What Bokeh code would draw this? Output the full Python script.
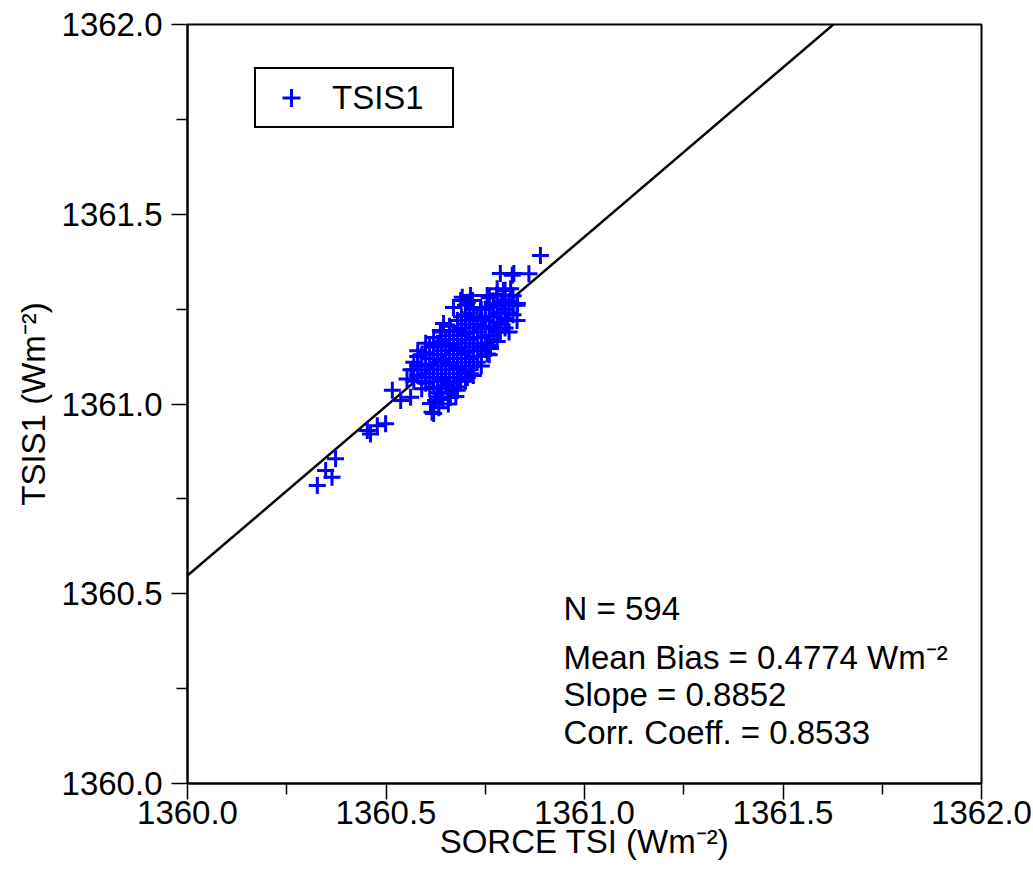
from bokeh.plotting import figure
from bokeh.models import Range1d, FixedTicker, Label, Legend, LegendItem, PrintfTickFormatter
from bokeh.embed import file_html
from bokeh.resources import INLINE

# ---- data ----
sorce_tsi = [
    1360.327, 1360.348, 1360.364, 1360.373, 1360.453, 1360.461, 1360.478, 1360.499,
    1360.516, 1360.537, 1360.553, 1360.562, 1360.889, 1360.860, 1360.818, 1360.616,
    1360.625, 1360.612, 1360.620, 1360.662, 1360.670, 1360.705, 1360.756, 1360.763,
    1360.788, 1360.806, 1360.831, 1360.814, 1360.796, 1360.780, 1360.688, 1360.705,
    1360.718, 1360.738, 1360.670, 1360.645, 1360.637, 1360.788, 1360.822, 1360.692,
    1360.713, 1360.755, 1360.780, 1360.830, 1360.763, 1360.755, 1360.780, 1360.713,
    1360.688, 1360.679, 1360.662, 1360.637, 1360.654, 1360.633, 1360.643, 1360.657,
    1360.676, 1360.600, 1360.580, 1360.563, 1360.810, 1360.830,
    1360.57, 1360.57, 1360.57,
    1360.59, 1360.59, 1360.59, 1360.59,
    1360.61, 1360.61, 1360.61, 1360.61, 1360.61,
    1360.63, 1360.63, 1360.63, 1360.63, 1360.63, 1360.63,
    1360.65, 1360.65, 1360.65, 1360.65, 1360.65, 1360.65,
    1360.67, 1360.67, 1360.67, 1360.67, 1360.67, 1360.67,
    1360.69, 1360.69, 1360.69, 1360.69, 1360.69, 1360.69, 1360.69,
    1360.71, 1360.71, 1360.71, 1360.71, 1360.71, 1360.71, 1360.71,
    1360.73, 1360.73, 1360.73, 1360.73, 1360.73, 1360.73,
    1360.75, 1360.75, 1360.75, 1360.75, 1360.75,
    1360.77, 1360.77, 1360.77, 1360.77,
    1360.79, 1360.79, 1360.79,
    1360.81, 1360.81,
    1360.58, 1360.58, 1360.58,
    1360.60, 1360.60, 1360.60, 1360.60,
    1360.62, 1360.62, 1360.62, 1360.62, 1360.62, 1360.62,
    1360.64, 1360.64, 1360.64, 1360.64, 1360.64, 1360.64, 1360.64,
    1360.66, 1360.66, 1360.66, 1360.66, 1360.66, 1360.66, 1360.66, 1360.66,
    1360.68, 1360.68, 1360.68, 1360.68, 1360.68, 1360.68, 1360.68, 1360.68,
    1360.70, 1360.70, 1360.70, 1360.70, 1360.70, 1360.70, 1360.70, 1360.70, 1360.70,
    1360.72, 1360.72, 1360.72, 1360.72, 1360.72, 1360.72, 1360.72, 1360.72,
    1360.74, 1360.74, 1360.74, 1360.74, 1360.74, 1360.74, 1360.74,
    1360.76, 1360.76, 1360.76, 1360.76, 1360.76, 1360.76, 1360.76,
    1360.78, 1360.78, 1360.78, 1360.78, 1360.78, 1360.78,
    1360.80, 1360.80, 1360.80, 1360.80, 1360.80,
    1360.82, 1360.82, 1360.82,
]
tsis1 = [
    1360.785, 1360.825, 1360.807, 1360.856, 1360.930, 1360.921, 1360.943, 1360.948,
    1361.036, 1361.009, 1361.066, 1361.018, 1361.391, 1361.343, 1361.339, 1360.978,
    1361.009, 1361.001, 1360.975, 1361.017, 1361.043, 1361.070, 1361.149, 1361.146,
    1361.194, 1361.220, 1361.265, 1361.304, 1361.299, 1361.286, 1361.273, 1361.268,
    1361.273, 1361.254, 1361.254, 1361.212, 1361.194, 1361.344, 1361.344, 1361.281,
    1361.286, 1361.286, 1361.304, 1361.260, 1361.150, 1361.132, 1361.194, 1361.080,
    1361.062, 1361.036, 1361.028, 1361.018, 1361.044, 1360.990, 1361.012, 1361.000,
    1361.020, 1361.160, 1361.140, 1361.090, 1361.190, 1361.220,
    1361.06, 1361.09, 1361.11,
    1361.04, 1361.07, 1361.10, 1361.13,
    1361.04, 1361.06, 1361.09, 1361.12, 1361.15,
    1361.03, 1361.06, 1361.08, 1361.11, 1361.13, 1361.16,
    1361.05, 1361.07, 1361.10, 1361.12, 1361.15, 1361.17,
    1361.06, 1361.09, 1361.11, 1361.14, 1361.16, 1361.19,
    1361.08, 1361.10, 1361.13, 1361.15, 1361.18, 1361.20, 1361.23,
    1361.09, 1361.12, 1361.14, 1361.17, 1361.19, 1361.22, 1361.24,
    1361.11, 1361.14, 1361.16, 1361.19, 1361.21, 1361.23,
    1361.15, 1361.18, 1361.20, 1361.22, 1361.25,
    1361.17, 1361.20, 1361.23, 1361.26,
    1361.21, 1361.24, 1361.27,
    1361.24, 1361.27,
    1361.075, 1361.100, 1361.125,
    1361.055, 1361.080, 1361.105, 1361.135,
    1361.045, 1361.070, 1361.100, 1361.130, 1361.155, 1361.175,
    1361.040, 1361.065, 1361.090, 1361.115, 1361.140, 1361.165, 1361.190,
    1361.030, 1361.055, 1361.080, 1361.105, 1361.130, 1361.155, 1361.180, 1361.205,
    1361.045, 1361.070, 1361.095, 1361.120, 1361.145, 1361.170, 1361.195, 1361.220,
    1361.060, 1361.085, 1361.110, 1361.135, 1361.160, 1361.185, 1361.210, 1361.235, 1361.260,
    1361.075, 1361.100, 1361.125, 1361.150, 1361.175, 1361.200, 1361.225, 1361.250,
    1361.100, 1361.125, 1361.150, 1361.175, 1361.200, 1361.225, 1361.250,
    1361.130, 1361.155, 1361.180, 1361.205, 1361.230, 1361.255, 1361.280,
    1361.165, 1361.190, 1361.215, 1361.240, 1361.265, 1361.290,
    1361.200, 1361.225, 1361.250, 1361.275, 1361.300,
    1361.235, 1361.260, 1361.285,
]

major_ticks = [1360.0, 1360.5, 1361.0, 1361.5, 1362.0]
minor_ticks = [1360.25, 1360.75, 1361.25, 1361.75]

fit_slope = 0.8925          # fitted line as drawn
fit_y_at_1360 = 1360.548
fit_x = [1360.0, 1362.0]

stats_lines = [
    "N = 594",
    "Mean Bias = 0.4774 Wm\u207b\u00b2",
    "Slope = 0.8852",
    "Corr. Coeff. = 0.8533",
]
stats_baselines_px = [175, 126, 89, 51]   # screen offsets from frame bottom

FONT = "Liberation Sans"
FS = "33px"

p = figure(width=1033, height=884,
           x_range=Range1d(1360.0, 1362.0), y_range=Range1d(1360.0, 1362.0),
           output_backend="svg", toolbar_location=None,
           min_border_left=187, min_border_right=52,
           min_border_top=24, min_border_bottom=101)

p.xgrid.visible = False
p.ygrid.visible = False
p.outline_line_color = "black"
p.outline_line_width = 2
p.background_fill_color = "white"
p.border_fill_color = "white"

for ax in (p.xaxis[0], p.yaxis[0]):
    ax.ticker = FixedTicker(ticks=major_ticks, minor_ticks=minor_ticks)
    ax.formatter = PrintfTickFormatter(format="%.1f")
    ax.axis_line_width = 2
    ax.axis_line_color = "black"
    ax.major_tick_in = 0
    ax.major_tick_out = 16
    ax.minor_tick_in = 0
    ax.minor_tick_out = 11
    ax.major_tick_line_width = 1.5
    ax.minor_tick_line_width = 1.5
    ax.major_tick_line_color = "black"
    ax.minor_tick_line_color = "black"
    ax.major_label_text_font = FONT
    ax.major_label_text_font_size = FS
    ax.major_label_text_color = "black"
    ax.axis_label_text_font = FONT
    ax.axis_label_text_font_size = FS
    ax.axis_label_text_font_style = "normal"
    ax.axis_label_text_color = "black"

p.xaxis.axis_label = "SORCE TSI (Wm\u207b\u00b2)"
p.yaxis.axis_label = "TSIS1 (Wm\u207b\u00b2)"
p.xaxis.major_label_standoff = 1
p.xaxis.axis_label_standoff = -4
p.yaxis.major_label_standoff = 9
p.yaxis.axis_label_standoff = 7

fit_y = [fit_y_at_1360 + fit_slope * (x - 1360.0) for x in fit_x]
p.line(fit_x, fit_y, line_color="black", line_width=2.5)

sc = p.scatter(sorce_tsi, tsis1, marker="cross", size=17,
               line_color="#0000ff", line_width=3)

legend = Legend(items=[LegendItem(label="TSIS1", renderers=[sc])],
                location=(67, 655), border_line_color="black", border_line_width=2,
                border_line_alpha=1, padding=6, glyph_width=58, glyph_height=45,
                label_standoff=12, label_width=114, label_text_font=FONT,
                label_text_font_size=FS, label_text_color="black", margin=0,
                background_fill_color="white", background_fill_alpha=1)
p.add_layout(legend)

for txt, yb in zip(stats_lines, stats_baselines_px):
    p.add_layout(Label(x=376, y=yb, x_units="screen", y_units="screen", text=txt,
                       text_font=FONT, text_font_size=FS, text_color="black",
                       text_baseline="alphabetic", text_align="left"))

open("out.html", "w").write(file_html(p, INLINE))
